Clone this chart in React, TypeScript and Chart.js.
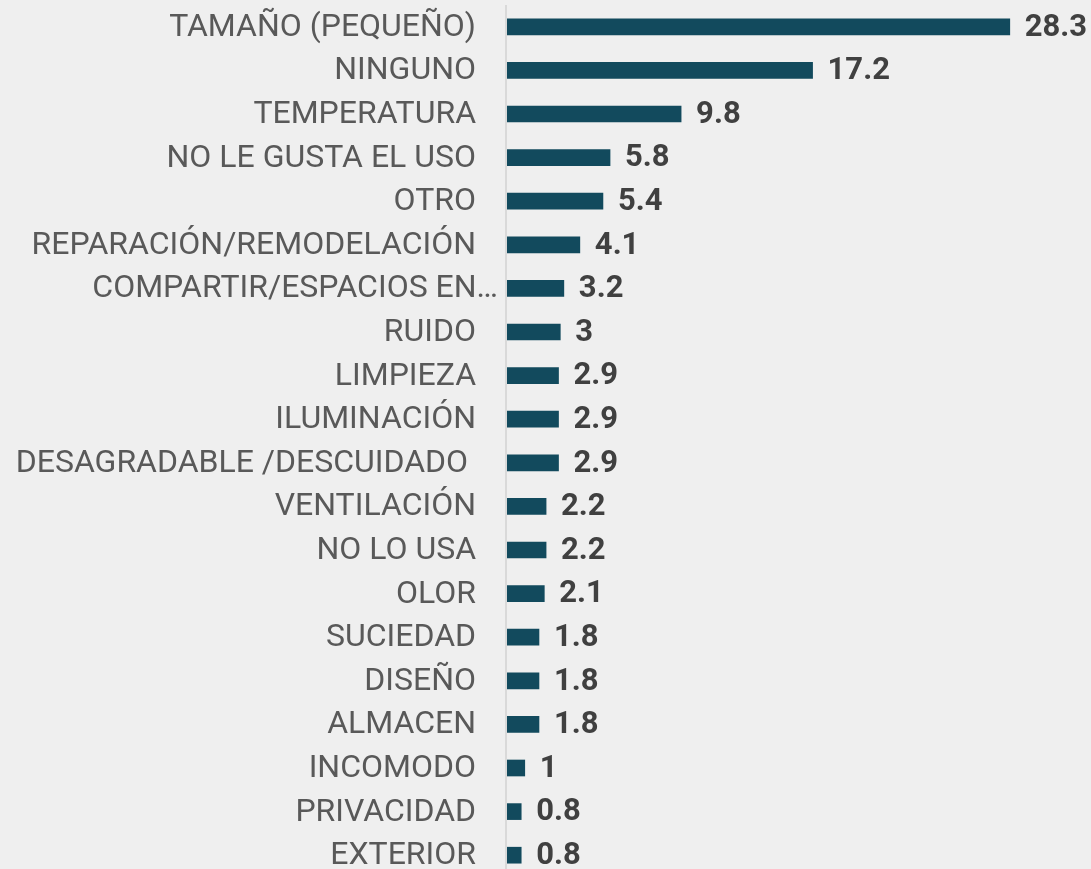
import React, { useEffect, useRef } from "react";
import { Chart, registerables } from "chart.js";

Chart.register(...registerables);

const categories: string[] = [
  "TAMAÑO (PEQUEÑO)",
  "NINGUNO",
  "TEMPERATURA",
  "NO LE GUSTA EL USO",
  "OTRO",
  "REPARACIÓN/REMODELACIÓN",
  "COMPARTIR/ESPACIOS EN…",
  "RUIDO",
  "LIMPIEZA",
  "ILUMINACIÓN",
  "DESAGRADABLE /DESCUIDADO ",
  "VENTILACIÓN",
  "NO LO USA",
  "OLOR",
  "SUCIEDAD",
  "DISEÑO",
  "ALMACEN",
  "INCOMODO",
  "PRIVACIDAD",
  "EXTERIOR",
];

const values: number[] = [
  28.3, 17.2, 9.8, 5.8, 5.4, 4.1, 3.2, 3, 2.9, 2.9, 2.9, 2.2, 2.2, 2.1, 1.8, 1.8, 1.8, 1, 0.8, 0.8,
];

const BG = "#efefef";
const BAR = "#124a5d";

const labelsPlugin = {
  id: "customLabels",
  afterDatasetsDraw(chart: any) {
    const ctx = chart.ctx;
    const area = chart.chartArea;
    const yScale = chart.scales.y;
    const meta = chart.getDatasetMeta(0);
    ctx.save();
    // axis line
    ctx.strokeStyle = "#d9d9d9";
    ctx.lineWidth = 2;
    ctx.beginPath();
    ctx.moveTo(area.left - 1, area.top);
    ctx.lineTo(area.left - 1, area.bottom);
    ctx.stroke();

    // category labels
    ctx.font = "32px Roboto";
    ctx.fillStyle = "#595959";
    ctx.textAlign = "right";
    ctx.textBaseline = "middle";
    categories.forEach((c, i) => {
      const y = yScale.getPixelForValue(i);
      const xr = c.endsWith("…") ? area.left - 9 : area.left - 31;
      ctx.fillText(c, xr, y + 1);
    });

    // value labels
    ctx.font = "bold 31px Roboto";
    ctx.fillStyle = "#404040";
    ctx.textAlign = "left";
    meta.data.forEach((bar: any, i: number) => {
      ctx.fillText(String(values[i]), bar.x + 15, bar.y + 1);
    });
    ctx.restore();
  },
};

export default function App() {
  const ref = useRef<HTMLCanvasElement | null>(null);
  useEffect(() => {
    if (!ref.current) return;
    const chart = new Chart(ref.current, {
      type: "bar",
      data: {
        labels: categories,
        datasets: [
          {
            data: values,
            backgroundColor: BAR,
            barThickness: 16,
          },
        ],
      },
      options: {
        indexAxis: "y",
        animation: false,
        responsive: false,
        maintainAspectRatio: false,
        layout: { padding: { left: 507, right: 51, top: 5, bottom: 3 } },
        plugins: {
          legend: { display: false },
          tooltip: { enabled: false },
          title: { display: false },
        },
        scales: {
          x: { display: false, min: 0, max: 30 },
          y: { display: false },
        },
      },
      plugins: [labelsPlugin],
    });
    return () => chart.destroy();
  }, []);
  return (
    <div
      style={{
        position: "fixed",
        left: 0,
        top: 0,
        width: 1091,
        height: 869,
        overflow: "hidden",
        background: BG,
      }}
    >
      <canvas ref={ref} width={1091} height={880} style={{ display: "block" }} />
    </div>
  );
}
